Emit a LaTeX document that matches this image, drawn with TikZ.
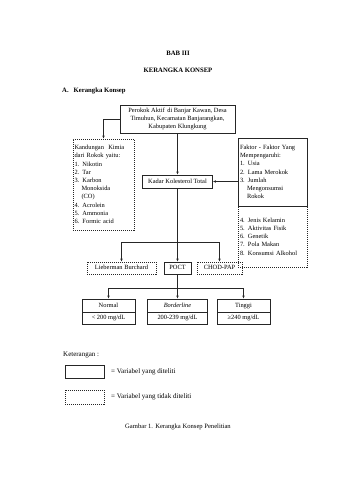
\documentclass[tikz,border=0pt]{standalone}
\usepackage{fontspec}
\setmainfont{Liberation Serif}
\usetikzlibrary{arrows.meta}
\begin{document}
\begin{tikzpicture}[x=1pt,y=-1pt,
  every node/.style={font=\fontsize{6.4}{8.2}\selectfont, inner sep=0pt},
  box/.style={draw=black!85, line width=0.7pt, rectangle, align=center},
  dbox/.style={box, dash pattern=on 1pt off 1pt, line width=0.6pt},
  one/.style={text height=4.6pt, text depth=1.4pt},
  arr/.style={draw=black!85, line width=0.6pt, -{Latex[length=3pt,width=2.6pt]}},
  head/.style={font=\fontsize{6.7}{8}\selectfont\bfseries},
  leg/.style={font=\fontsize{7}{8}\selectfont}]
\useasboundingbox (0,0) rectangle (339,480);
% headings
\node[head] (bab) at (178,53) {BAB III};
\node[head] (judul) at (178,70) {KERANGKA KONSEP};
\node[head, anchor=west] (sub) at (62,91) {A.\hspace{5pt}Kerangka Konsep};
% top box
\node[box, minimum width=115pt, minimum height=28pt] (top) at (177.5,119)
  {Perokok Aktif\, di Banjar Kawan, Desa\\Timuhun, Kecamatan Banjarangkan,\\Kabupaten Klungkung};
% left dashed box
\node[dbox, minimum width=61pt, minimum height=91pt, align=left, text width=58pt] (left) at (103.5,184.5)
  {Kandungan\ \ Kimia\\dari Rokok yaitu:\\1.\ \,Nikotin\\2.\ \,Tar\\3.\ \,Karbon\\\hspace*{7pt}Monoksida\\\hspace*{7pt}(CO)\\4.\ \,Acrolein\\5.\ \,Ammonia\\6.\ \,Formic acid};
% Kadar
\node[box, one, minimum width=70pt, minimum height=13pt] (kadar) at (177.5,181.5) {Kadar Kolesterol Total};
% right boxes
\node[box, minimum width=69pt, minimum height=68pt, align=left, text width=65pt] (rs) at (272.5,172)
  {Faktor - Faktor Yang\\Mempengaruhi:\\1.\ \,Usia\\2.\ \,Lama Merokok\\3.\ \,Jumlah\\\hspace*{7pt}Mengonsumsi\\\hspace*{7pt}Rokok};
\node[dbox, minimum width=69pt, minimum height=61pt, align=left, text width=65pt] (rd) at (272.5,236.5)
  {4.\ \,Jenis Kelamin\\5.\ \,Aktivitas Fisik\\6.\ \,Genetik\\7.\ \,Pola Makan\\8.\ \,Konsumsi Alkohol};
% methods
\node[dbox, one, minimum width=69pt, minimum height=12pt] (lieb) at (121.5,268) {Lieberman Burchard};
\node[box, one, minimum width=27pt, minimum height=12pt] (poct) at (177.5,268) {POCT};
\node[dbox, one, minimum width=45pt, minimum height=12pt] (chod) at (219.5,268) {CHOD-PAP};
% results
\node[box, one, minimum width=53pt, minimum height=13pt] (normT) at (108.5,305.5) {Normal};
\node[box, one, minimum width=53pt, minimum height=12pt] (normB) at (108.5,318) {< 200 mg/dL};
\node[box, one, minimum width=60pt, minimum height=13pt] (bordT) at (177.5,305.5) {\itshape Borderline};
\node[box, one, minimum width=60pt, minimum height=12pt] (bordB) at (177.5,318) {200-239 mg/dL};
\node[box, one, minimum width=53pt, minimum height=13pt] (tingT) at (243.5,305.5) {Tinggi};
\node[box, one, minimum width=53pt, minimum height=12pt] (tingB) at (243.5,318) {≥240 mg/dL};
% connectors
\draw[arr] (top.west) -| (left.north);
\draw[arr] (top.south) -- (kadar.north);
\draw[arr] (rs.west |- kadar.east) -- (kadar.east);
\coordinate (b1) at (177.5,242);
\draw[arr] (kadar.south) -- (poct.north);
\draw[arr] (b1) -| (lieb.north);
\draw[arr] (b1) -| (chod.north);
\coordinate (b2) at (177.5,288);
\draw[arr] (poct.south) -- (bordT.north);
\draw[arr] (b2) -| (normT.north);
\draw[arr] (b2) -| (tingT.north);
% legend
\node[leg, anchor=west] (ket) at (63,355) {Keterangan :};
\node[box, minimum width=39pt, minimum height=13pt] (lg1) at (84.5,371.5) {};
\node[leg, anchor=west] (lt1) at (111,371.5) {= Variabel yang diteliti};
\node[dbox, minimum width=39pt, minimum height=14pt] (lg2) at (84.5,397) {};
\node[leg, anchor=west] (lt2) at (111,397) {= Variabel yang tidak diteliti};
% caption
\node[font=\fontsize{6.6}{8}\selectfont] (cap) at (178,427) {Gambar 1. Kerangka Konsep Penelitian};
\end{tikzpicture}
\end{document}
